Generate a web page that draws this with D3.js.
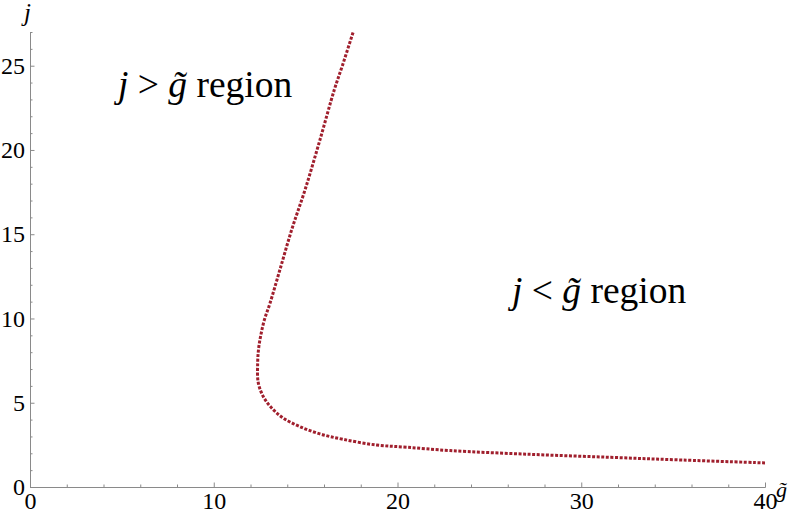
<!DOCTYPE html>
<html><head><meta charset="utf-8">
<script src="https://cdn.jsdelivr.net/npm/d3@7"></script>
<style>body{margin:0;background:#fff}svg{display:block}</style>
</head><body>
<svg id="c" width="789" height="518"></svg>
<script>
const gValues = [40, 35.5, 31.6, 27.2, 22.86, 20.5, 18.87, 17.03, 15.78, 14.69, 13.77, 13.15, 12.7, 12.42, 12.39, 12.44, 12.56, 12.75, 13.06, 13.6, 14.24, 14.97, 15.78, 16.56, 17.0, 17.6];
const jValues = [1.43, 1.60, 1.76, 1.94, 2.16, 2.36, 2.49, 2.83, 3.15, 3.58, 4.1, 4.69, 5.36, 6.2, 7.36, 8.2, 9.0, 9.9, 10.9, 12.89, 15.26, 17.64, 20.6, 23.57, 25.0, 27.04];
const xTicks = [0, 10, 20, 30, 40];
const yTicks = [0, 5, 10, 15, 20, 25];
const xMinor = d3.range(0, 41, 2).filter(v => v % 10 !== 0);
const yMinor = d3.range(0, 28, 1).filter(v => v % 5 !== 0);

const FONT = "'Liberation Serif'";
const svg = d3.select("#c");
const x = d3.scaleLinear().domain([0, 40]).range([30, 765]);
const y = d3.scaleLinear().domain([0, 27]).range([487, 32]);
const axisColor = "#8a8a8a";

function style(g) {
  g.attr("font-family", "Liberation Serif").attr("font-size", 24);
  g.select(".domain").attr("stroke", axisColor).attr("stroke-width", 1);
  g.selectAll(".tick line").attr("stroke", axisColor);
  g.selectAll(".tick text").attr("fill", "#000");
}

svg.append("g").attr("transform", "translate(0,487)")
  .call(d3.axisBottom(x).tickValues(xMinor).tickSize(-2.5).tickFormat("").tickSizeOuter(0))
  .call(style);
svg.append("g").attr("transform", "translate(0,487)")
  .call(d3.axisBottom(x).tickValues(xTicks).tickSizeInner(-4.5).tickSizeOuter(0).tickPadding(5).tickFormat(d3.format("d")))
  .call(style);
svg.append("g").attr("transform", "translate(30,0)")
  .call(d3.axisLeft(y).tickValues(yMinor).tickSize(-2.5).tickFormat("").tickSizeOuter(0))
  .call(style);
svg.append("g").attr("transform", "translate(30,0)")
  .call(d3.axisLeft(y).tickValues(yTicks).tickSizeInner(-4.5).tickSizeOuter(0).tickPadding(5).tickFormat(d3.format("d")))
  .call(style);

// curve
const pts = gValues.map((g, i) => [g, jValues[i]]);
svg.append("path")
  .attr("d", d3.line().x(d => x(d[0])).y(d => y(d[1])).curve(d3.curveCatmullRom.alpha(0.5))(pts))
  .attr("fill", "none").attr("stroke", "#a01f2d").attr("stroke-width", 3)
  .attr("stroke-dasharray", "3,1.6");

// axis labels
svg.append("text").attr("x", 24).attr("y", 21).style("font-family", FONT).style("font-size", "25px").style("font-style", "italic").text("j");
svg.append("text").attr("x", 776).attr("y", 497).style("font-family", FONT).style("font-size", "22px").style("font-style", "italic").text("g\u0303");

function region(xp, yp, op) {
  const t = svg.append("text").attr("x", xp).attr("y", yp).style("font-family", FONT).style("font-size", "37.5px");
  t.append("tspan").style("font-style", "italic").text("j");
  t.append("tspan").text(" " + op + " ");
  t.append("tspan").style("font-style", "italic").text("g\u0303");
  t.append("tspan").text(" region");
}
region(118, 97, ">");
region(512, 303, "<");
</script>
</body></html>
